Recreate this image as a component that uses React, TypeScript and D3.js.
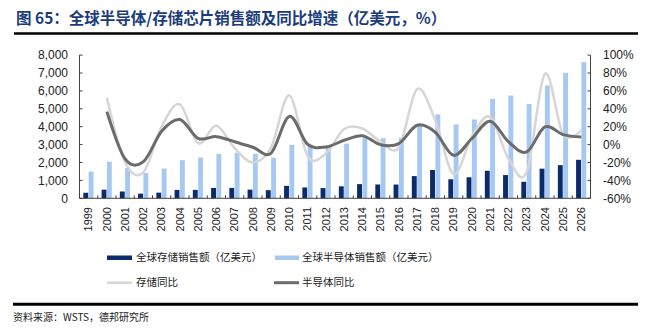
import React from "react";
import * as d3 from "d3";

const years = ["1999","2000","2001","2002","2003","2004","2005","2006","2007","2008","2009","2010","2011","2012","2013","2014","2015","2016","2017","2018","2019","2020","2021","2022","2023","2024","2025","2026"];
const memorySales = [310,480,380,260,315,470,470,580,580,484,454,696,605,571,670,792,772,768,1240,1580,1064,1175,1538,1298,923,1655,1850,2150];
const semiSales = [1494,2044,1700,1410,1664,2133,2275,2477,2556,2486,2263,2983,2995,2916,3056,3358,3352,3389,4122,4688,4123,4404,5559,5741,5268,6305,7009,7607];
const memoryYoY: (number|null)[] = [null,52,-20,-31,20,45,1.5,21,-4,-20,-3,55,-13,-10,17.5,18,3,-3,62,27,-33,9,31,-15.6,-31,79,11.5,16];
const semiYoY: (number|null)[] = [null,36.8,-16,-19,15,28,7,8.9,3.2,-3,-9.5,31.5,0.4,-2.7,4.8,9.9,-0.2,1.1,21.6,13.7,-12,6.8,26.2,3.3,-8.2,19.7,11.2,8.5];
const leftTicks = [0,1000,2000,3000,4000,5000,6000,7000,8000];
const rightTicks = [-60,-40,-20,0,20,40,60,80,100];

const title = "图 65：全球半导体/存储芯片销售额及同比增速（亿美元，%）";
const source = "资料来源：WSTS，德邦研究所";
const legendLabels = ["全球存储销售额（亿美元）","全球半导体销售额（亿美元）","存储同比","半导体同比"];

const C = {
  memBar: "#0C2B6B",
  semiBar: "#A7C9F1",
  memLine: "#D6D6D6",
  semiLine: "#6B6B6B",
  axis: "#404040",
  title: "#1B3C7A",
  text: "#222",
};

export default function App() {
  const left = 79.5, right = 590.5, top = 55.1, bottom = 198.3;
  const x = d3.scaleBand<string>().domain(years).range([left, right]);
  const bw = x.bandwidth();
  const sub = d3.scaleBand<string>().domain(["m","s"]).range([-bw*0.29, bw*0.27]).paddingInner(0.08);
  const yL = d3.scaleLinear().domain([0, 8000]).range([bottom, top]);
  const yR = d3.scaleLinear().domain([-60, 100]).range([bottom, top]);
  const cx = (i: number) => (x(years[i]) as number) + bw / 2;

  const line = d3.line<number|null>()
    .defined(d => d !== null)
    .x((_, i) => cx(i))
    .y(d => yR(d as number))
    .curve(d3.curveCardinal.tension(0));

  const numFont = "'Liberation Sans', Arial, sans-serif";
  const cjkFont = "'Noto Sans CJK SC', 'Noto Sans', sans-serif";
  const fmt = d3.format(",");

  return (
    <svg width={650} height={335} style={{ position: "absolute", left: 0, top: 0, background: "#fff" }}>
      <text x={16} y={24} fontFamily={cjkFont} fontWeight={700} fontSize={15.5} fill={C.title}>{title}</text>
      <line x1={14} x2={638} y1={33.5} y2={33.5} stroke="#000" strokeWidth={2.5} />

      {years.map((yr, i) => (
        <g key={yr}>
          <rect x={cx(i) + (sub("m") as number)} width={sub.bandwidth()} y={yL(memorySales[i])} height={bottom - yL(memorySales[i])} fill={C.memBar} />
          <rect x={cx(i) + (sub("s") as number)} width={sub.bandwidth()} y={yL(semiSales[i])} height={bottom - yL(semiSales[i])} fill={C.semiBar} />
        </g>
      ))}

      <path d={line(memoryYoY) || ""} fill="none" stroke={C.memLine} strokeWidth={2.5} />
      <path d={line(semiYoY) || ""} fill="none" stroke={C.semiLine} strokeWidth={3} />

      <line x1={left} x2={left} y1={top} y2={bottom} stroke={C.axis} strokeWidth={1} />
      {leftTicks.map(t => (
        <g key={"l"+t}>
          <line x1={left} x2={left + 3} y1={yL(t)} y2={yL(t)} stroke={C.axis} />
          <text x={68} y={yL(t)} dy="0.35em" textAnchor="end" fontFamily={numFont} fontSize={12} fill={C.text}>{fmt(t)}</text>
        </g>
      ))}
      <line x1={right} x2={right} y1={top} y2={bottom} stroke={C.axis} strokeWidth={1} />
      {rightTicks.map(t => (
        <g key={"r"+t}>
          <line x1={right - 3} x2={right} y1={yR(t)} y2={yR(t)} stroke={C.axis} />
          <text x={603} y={yR(t)} dy="0.35em" textAnchor="start" fontFamily={numFont} fontSize={12} fill={C.text}>{t + "%"}</text>
        </g>
      ))}
      <line x1={left} x2={right} y1={bottom} y2={bottom} stroke={C.axis} strokeWidth={1} />
      {years.map((yr, i) => (
        <g key={"x"+yr}>
          {i > 0 && <line x1={x(yr) as number} x2={x(yr) as number} y1={bottom} y2={bottom - 3} stroke={C.axis} />}
          <text transform={`translate(${cx(i)},${207}) rotate(-90)`} dy="0.35em" textAnchor="end" fontFamily={numFont} fontSize={11} fill={C.text}>{yr}</text>
        </g>
      ))}

      <rect x={107} y={255.5} width={25} height={4.5} fill={C.memBar} />
      <text x={136} y={257.7} dy="0.35em" fontFamily={cjkFont} fontSize={10.5} fill={C.text}>{legendLabels[0]}</text>
      <rect x={275} y={255.5} width={24} height={4.5} fill={C.semiBar} />
      <text x={302} y={257.7} dy="0.35em" fontFamily={cjkFont} fontSize={10.5} fill={C.text}>{legendLabels[1]}</text>
      <line x1={107} x2={132} y1={282.7} y2={282.7} stroke={C.memLine} strokeWidth={2.5} />
      <text x={136} y={282.7} dy="0.35em" fontFamily={cjkFont} fontSize={10.5} fill={C.text}>{legendLabels[2]}</text>
      <line x1={274} x2={299} y1={282.7} y2={282.7} stroke={C.semiLine} strokeWidth={3} />
      <text x={302} y={282.7} dy="0.35em" fontFamily={cjkFont} fontSize={10.5} fill={C.text}>{legendLabels[3]}</text>

      <line x1={13} x2={638} y1={304.3} y2={304.3} stroke="#000" strokeWidth={3} />
      <text x={13} y={317} dy="0.35em" fontFamily={cjkFont} fontSize={10} fill={C.text}>{source}</text>
    </svg>
  );
}
